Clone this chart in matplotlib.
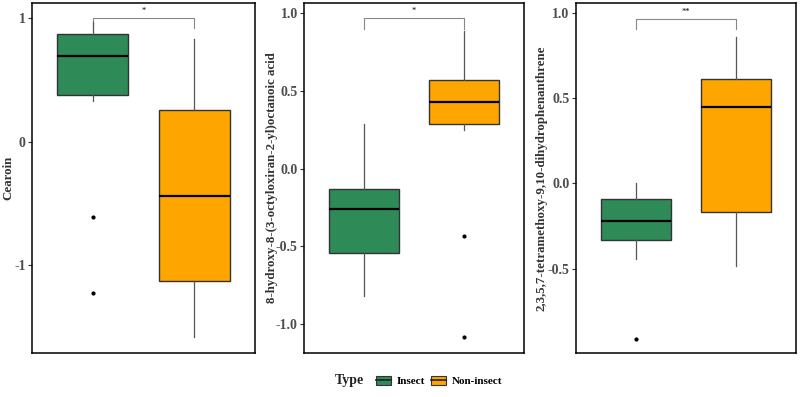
import matplotlib
matplotlib.use("Agg")
import matplotlib.pyplot as plt
from matplotlib.patches import Patch
from matplotlib.lines import Line2D

groups = ["Insect", "Non-insect"]
colors = ["#2E8B57", "#FFA500"]

ylabels = ["Cearoin",
           "8-hydroxy-8-(3-octyloxiran-2-yl)octanoic acid",
           "2,3,5,7-tetramethoxy-9,10-dihydrophenanthrene"]
signif = ["*", "*", "**"]

# box stats per panel: [Insect, Non-insect]
q1 = [[0.38, -1.13], [-0.54, 0.29], [-0.33, -0.165]]
med = [[0.69, -0.44], [-0.26, 0.43], [-0.22, 0.45]]
q3 = [[0.87, 0.26], [-0.13, 0.57], [-0.09, 0.61]]
whislo = [[0.33, -1.58], [-0.82, 0.25], [-0.44, -0.48]]
whishi = [[0.97, 0.83], [0.29, 0.89], [0.0, 0.86]]
fliers = [[[-0.61, -1.22], []], [[], [-0.43, -1.08]], [[-0.91], []]]

bracket_y = [1.0, 0.97, 0.963]
bracket_tick = [0.92, 0.90, 0.905]
ylims = [(-1.706, 1.121), (-1.184, 1.066), (-0.99, 1.055)]
yticks = [[-1, 0, 1], [-1.0, -0.5, 0.0, 0.5, 1.0], [-0.5, 0.0, 0.5, 1.0]]
yticklabels = [["-1", "0", "1"], ["-1.0", "-0.5", "0.0", "0.5", "1.0"],
               ["-0.5", "0.0", "0.5", "1.0"]]

positions = [(0.040, 0.279), (0.380, 0.275), (0.7196, 0.276)]
label_x_px = [8, 272, 542]

serif = "Liberation Serif"
fig = plt.figure(figsize=(8, 3.97), dpi=100)

for i in range(3):
    left, w = positions[i]
    ax = fig.add_axes([left, 0.1116, w, 0.992 - 0.1116])
    stats = []
    for g in range(2):
        stats.append(dict(q1=q1[i][g], med=med[i][g], q3=q3[i][g],
                          whislo=whislo[i][g], whishi=whishi[i][g],
                          fliers=fliers[i][g]))
    bp = ax.bxp(stats, positions=[1, 2], widths=0.7, patch_artist=True,
                showcaps=False,
                boxprops=dict(edgecolor="#333333", linewidth=1.0),
                whiskerprops=dict(color="#555555", linewidth=0.9),
                medianprops=dict(color="black", linewidth=1.6),
                flierprops=dict(marker="o", markersize=2.0,
                                markerfacecolor="black",
                                markeredgecolor="black"))
    for patch, c in zip(bp["boxes"], colors):
        patch.set_facecolor(c)
    # significance bracket
    by, bt = bracket_y[i], bracket_tick[i]
    ax.plot([1, 1, 2, 2], [bt, by, by, bt], color="#888888", lw=0.8,
            zorder=1)
    ax.text(1.5, by + 0.008 * (ylims[i][1] - ylims[i][0]), signif[i],
            ha="center", va="bottom", fontsize=6, family=serif)
    ax.set_xlim(0.4, 2.6)
    ax.set_ylim(*ylims[i])
    ax.set_xticks([])
    ax.set_yticks(yticks[i])
    ax.set_yticklabels(yticklabels[i], fontfamily=serif, fontweight="bold",
                       fontsize=10, color="#4d4d4d")
    ax.tick_params(axis="y", length=3, width=0.8, color="#333333", pad=1.5)
    for s in ax.spines.values():
        s.set_linewidth(1.1)
        s.set_color("black")
    ax.set_ylabel(ylabels[i], fontfamily=serif, fontweight="bold",
                  fontsize=9.3, color="#333333")
    ax.yaxis.label.set_verticalalignment("center")
    ax_left_px = left * 800
    ax.yaxis.set_label_coords((label_x_px[i] - ax_left_px) / (w * 800), 0.5)

# legend
fig.text(0.419, 0.041, "Type", fontfamily=serif, fontweight="bold",
         fontsize=10, ha="left", va="center", color="#222222")
handles = []
for c in colors:
    handles.append((Patch(facecolor=c, edgecolor="#333333", linewidth=0.8),
                    Line2D([], [], color="#222222", lw=1.2)))
fig.legend(handles, groups, loc="center left", bbox_to_anchor=(0.458, 0.041),
           ncol=2, frameon=False, handlelength=1.3, handleheight=0.9,
           handletextpad=0.5, columnspacing=0.6,
           prop=dict(family=serif, weight="bold", size=8))

fig.savefig("out.png", dpi=100)
